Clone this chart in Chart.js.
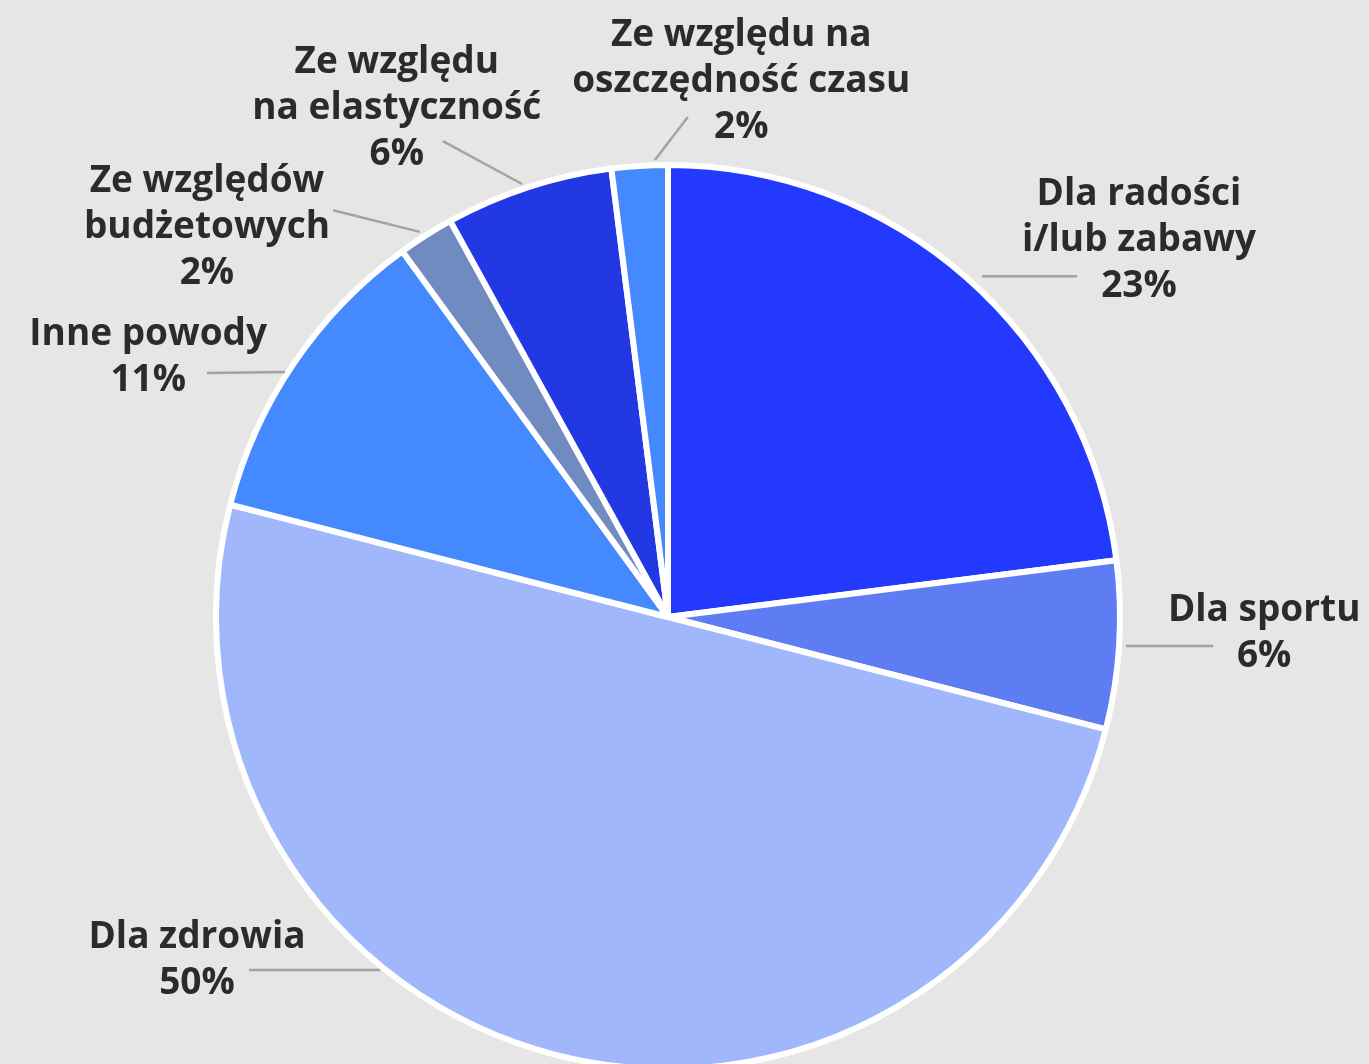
<!DOCTYPE html>
<html>
<head>
<meta charset="utf-8">
<script src="https://cdn.jsdelivr.net/npm/chart.js@4.4.1/dist/chart.umd.min.js"></script>
<style>
  html, body { margin: 0; padding: 0; background: #e6e6e6; }
  #wrap { width: 1369px; height: 1064px; }
</style>
</head>
<body>
<div id="wrap"><canvas id="pie"></canvas></div>
<script>
// data
const categories = [
  ["Dla radości", "i/lub zabawy"],
  ["Dla sportu"],
  ["Dla zdrowia"],
  ["Inne powody"],
  ["Ze względów", "budżetowych"],
  ["Ze względu", "na elastyczność"],
  ["Ze względu na", "oszczędność czasu"],
];
const values = [23, 6, 50, 11, 2, 6, 2];
const colors = ["#2439fe", "#5f7df3", "#a0b8fb", "#4589ff", "#6f8bc0", "#2238e2", "#4589ff"];

// label layout, in units of the pie radius from its centre
const labelPos = [
  [1.042, -0.832],
  [1.319, 0.037],
  [-1.042, 0.759],
  [-1.150, -0.574],
  [-1.020, -0.861],
  [-0.600, -1.126],
  [0.162, -1.184],
];
const leaders = [
  [0.695, -0.754, 0.905, -0.754],
  [1.013, 0.064, 1.206, 0.064],
  [-0.637, 0.781, -0.927, 0.781],
  [-0.847, -0.542, -1.020, -0.540],
  [-0.549, -0.852, -0.741, -0.900],
  [-0.323, -0.958, -0.498, -1.053],
  [-0.029, -1.011, 0.044, -1.106],
];

const FONT = "bold 37px 'Open Sans', 'Noto Sans', sans-serif";
const LINE_H = 46;

const outsideLabels = {
  id: "outsideLabels",
  afterDatasetsDraw(chart) {
    const ctx = chart.ctx;
    const arcs = chart.getDatasetMeta(0).data;
    ctx.save();
    arcs.forEach((arc, i) => {
      const { x, y, outerRadius: r } = arc.getProps(["x", "y", "outerRadius"], true);
      const [x1, y1, x2, y2] = leaders[i];
      ctx.strokeStyle = "#a3a3a3";
      ctx.lineWidth = 2.5;
      ctx.beginPath();
      ctx.moveTo(x + x1 * r, y + y1 * r);
      ctx.lineTo(x + x2 * r, y + y2 * r);
      ctx.stroke();

      const lines = [...categories[i], values[i] + "%"];
      const cx = x + labelPos[i][0] * r;
      const cy = y + labelPos[i][1] * r;
      ctx.font = FONT;
      ctx.fillStyle = "#2b2b2b";
      ctx.textAlign = "center";
      ctx.textBaseline = "middle";
      lines.forEach((t, k) => {
        ctx.fillText(t, cx, cy + (k - (lines.length - 1) / 2) * LINE_H);
      });
    });
    ctx.restore();
  },
};

new Chart(document.getElementById("pie"), {
  type: "pie",
  data: {
    labels: categories,
    datasets: [
      {
        data: values,
        backgroundColor: colors,
        borderColor: "#ffffff",
        borderWidth: 6,
      },
    ],
  },
  options: {
    responsive: true,
    maintainAspectRatio: false,
    animation: false,
    radius: 452,
    layout: { padding: { top: 170, bottom: 0, left: 150, right: 183 } },
    plugins: {
      legend: { display: false },
      tooltip: { enabled: false },
    },
  },
  plugins: [outsideLabels],
});
</script>
</body>
</html>
